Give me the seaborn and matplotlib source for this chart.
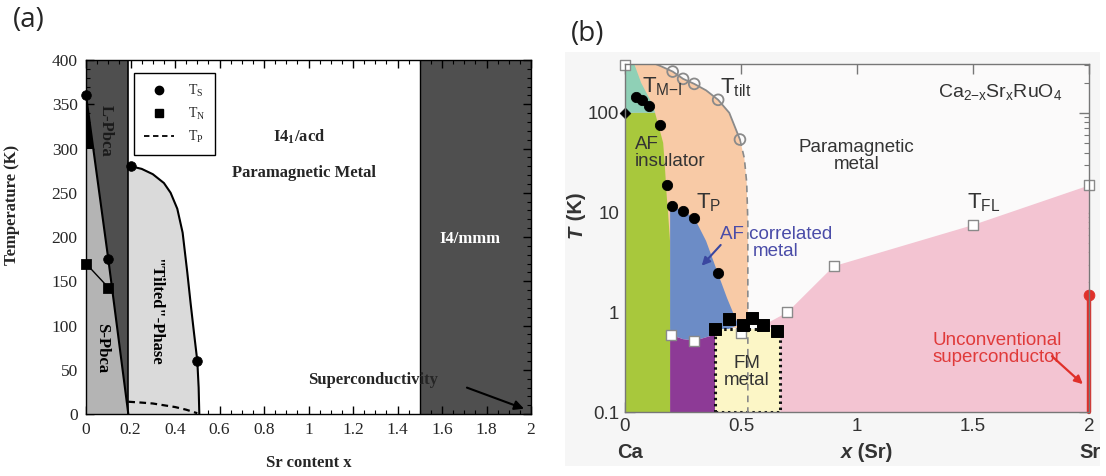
import matplotlib
matplotlib.use("Agg")
import matplotlib.pyplot as plt
import seaborn as sns
from matplotlib.lines import Line2D
from matplotlib.patches import Rectangle
from matplotlib.ticker import MultipleLocator, LogLocator, NullFormatter

# ---------------- panel (a): structural / magnetic phase diagram ----------------
ts_x = [0.0, 0.1, 0.2, 0.5]
ts_y = [360, 175, 280, 60]
tn_x = [0.0, 0.1]
tn_y = [170, 143]
ts_line_x = [0.0, 0.1, 0.19]
ts_line_y = [360, 175, 0]
tilt_x = [0.19, 0.2, 0.25, 0.3, 0.35, 0.38, 0.41, 0.434, 0.455, 0.47, 0.485, 0.5, 0.506, 0.509]
tilt_y = [280, 280, 277, 271, 261, 250, 232, 205, 160, 125, 92, 60, 30, 0]
tp_x = [0.19, 0.25, 0.3, 0.35, 0.4, 0.45, 0.5]
tp_y = [14, 13, 12, 10, 8, 5, 1]
spbca_x = [0.0, 0.0, 0.032, 0.1, 0.19]
spbca_y = [0, 300, 300, 175, 0]
wedge_x = [0.0, 0.0, 0.032]
wedge_y = [360, 300, 300]
lpbca_range = (0.0, 0.19)
i4mmm_range = (1.5, 2.0)
xticks_a = [0, 0.2, 0.4, 0.6, 0.8, 1.0, 1.2, 1.4, 1.6, 1.8, 2.0]
xticklabels_a = ["0", "0.2", "0.4", "0.6", "0.8", "1", "1.2", "1.4", "1.6", "1.8", "2"]
yticks_a = [0, 50, 100, 150, 200, 250, 300, 350, 400]
yticklabels_a = ["0", "50", "100", "150", "200", "250", "300", "350", "400"]
sc_arrow_tail = (1.70, 31)
sc_arrow_head = (1.98, 5)

# ---------------- panel (b): electronic phase diagram (log T) ----------------
tmi_x = [0.05, 0.072, 0.105, 0.151, 0.182, 0.205, 0.251, 0.299, 0.402]
tmi_y = [145, 135, 118, 76, 18.7, 11.6, 10.5, 8.8, 2.5]
tmi_diamond_x = [0.0]
tmi_diamond_y = [100]
ttilt_x = [0.206, 0.251, 0.299, 0.402, 0.496]
ttilt_y = [259, 219, 195, 135, 54]
ttilt_line_x = [0.13, 0.16, 0.206, 0.251, 0.299, 0.35, 0.402, 0.45, 0.496]
ttilt_line_y = [310, 290, 259, 219, 195, 168, 135, 100, 54]
ttilt_dash_x = [0.496, 0.515, 0.525, 0.53, 0.53]
ttilt_dash_y = [54, 35, 20, 8, 0.1]
tfl_x = [0.0, 0.2, 0.3, 0.5, 0.7, 0.9, 1.5, 2.0]
tfl_y = [300, 0.6, 0.52, 0.62, 1.0, 2.9, 7.5, 18.7]
fm_sq_x = [0.388, 0.448, 0.51, 0.546, 0.596, 0.654]
fm_sq_y = [0.68, 0.85, 0.74, 0.87, 0.74, 0.65]
sc_x = [2.0, 2.0]
sc_y = [0.1, 1.48]

teal_x = [0.0, 0.0, 0.04, 0.07, 0.12, 0.13]
teal_y = [100, 310, 310, 200, 120, 100]
green_x = [0.0, 0.0, 0.13, 0.165, 0.172, 0.18, 0.186, 0.195, 0.197, 0.197]
green_y = [0.1, 100, 100, 50, 30, 15, 10, 5, 1, 0.1]
blue_x = [0.195, 0.195, 0.25, 0.3, 0.35, 0.4, 0.44, 0.466, 0.49, 0.39, 0.3, 0.25]
blue_y = [0.6, 11.6, 10.5, 8.8, 5.2, 2.5, 1.4, 1.0, 0.75, 0.6, 0.52, 0.54]
purple_x = [0.195, 0.195, 0.25, 0.3, 0.39, 0.39]
purple_y = [0.1, 0.6, 0.54, 0.52, 0.6, 0.1]
peach_x = [0.04, 0.13, 0.16, 0.206, 0.251, 0.299, 0.35, 0.402, 0.45, 0.496, 0.515,
           0.525, 0.53, 0.53, 0.04]
peach_y = [310, 310, 290, 259, 219, 195, 168, 135, 100, 54, 35, 20, 8, 0.7, 0.7]
pink_x = [0.6, 0.7, 0.9, 1.5, 2.0, 2.0, 0.67, 0.67]
pink_y = [0.75, 1.0, 2.9, 7.5, 18.7, 0.1, 0.1, 0.65]
fm_x = [0.39, 0.39, 0.67, 0.67]
fm_y = [0.1, 0.68, 0.68, 0.1]
yticks_b = [0.1, 1, 10, 100]
yticklabels_b = ["0.1", "1", "10", "100"]
xticks_b = [0, 0.5, 1, 1.5, 2]
xticklabels_b = ["0", "0.5", "1", "1.5", "2"]

sns.set_theme(style="ticks")
plt.rcParams["font.family"] = ["Liberation Sans", "DejaVu Sans"]
plt.rcParams["mathtext.default"] = "regular"

SERIF = ["Liberation Serif", "DejaVu Serif"]
SANS = ["Liberation Sans", "DejaVu Sans"]
DARK = "#4f4f4f"

fig = plt.figure(figsize=(11.06, 4.76), dpi=100)
fig.patch.set_facecolor("white")

# ======================= (a) =======================
axa = fig.add_axes([0.0778, 0.130, 0.4024, 0.744])
axa.set_xlim(0, 2)
axa.set_ylim(0, 400)

axa.axvspan(*lpbca_range, color=DARK, lw=0, zorder=0)
axa.axvspan(*i4mmm_range, color=DARK, lw=0, zorder=0)
axa.fill(spbca_x, spbca_y, color="#b4b4b4", lw=0, zorder=1)
axa.fill(wedge_x, wedge_y, color="black", lw=0, zorder=1)
axa.fill_between(tilt_x, 0, tilt_y, color="#dadada", lw=0, zorder=1)
axa.axvline(lpbca_range[1], color="black", lw=1.2, zorder=2)
axa.axvline(i4mmm_range[0], color="black", lw=1.0, zorder=2)

sns.lineplot(x=ts_line_x, y=ts_line_y, sort=False, estimator=None, color="black",
             lw=1.5, ax=axa, zorder=3)
sns.lineplot(x=tilt_x[1:], y=tilt_y[1:], sort=False, estimator=None, color="black",
             lw=1.5, ax=axa, zorder=3)
sns.lineplot(x=tn_x, y=tn_y, sort=False, estimator=None, color="black",
             lw=1.0, ax=axa, zorder=3)
sns.lineplot(x=tp_x, y=tp_y, sort=False, estimator=None, color="black",
             lw=1.6, linestyle=(0, (3, 2)), ax=axa, zorder=3)
sns.scatterplot(x=ts_x, y=ts_y, marker="o", s=48, color="black", edgecolor="black",
                ax=axa, zorder=5, clip_on=False)
sns.scatterplot(x=tn_x, y=tn_y, marker="s", s=48, color="black", edgecolor="black",
                ax=axa, zorder=5, clip_on=False)

handles = [
    Line2D([], [], marker="o", color="black", ls="none", ms=6),
    Line2D([], [], marker="s", color="black", ls="none", ms=6),
    Line2D([], [], color="black", ls=(0, (3, 2)), lw=1.3),
]
leg = axa.legend(handles, [r"T$_{S}$", r"T$_{N}$", r"T$_{P}$"], loc="upper left",
                 bbox_to_anchor=(0.092, 0.982), prop={"family": SERIF, "size": 10},
                 frameon=True, fancybox=False, edgecolor="black", framealpha=1,
                 handlelength=2.2, borderpad=0.7, labelspacing=0.5, handletextpad=1.0)
leg.get_frame().set_linewidth(1.0)
leg.set_zorder(6)

bold_serif = dict(family=SERIF, weight="bold", fontsize=12)
axa.text(0.09, 320, "L-Pbca", rotation=-90, ha="center", va="center", color="#1a1a1a",
         zorder=4, **bold_serif)
axa.text(0.07, 75, "S-Pbca", rotation=-90, ha="center", va="center", color="black",
         zorder=4, **bold_serif)
axa.text(0.31, 115, '"Tilted"-Phase', rotation=-90, ha="center", va="center",
         color="black", zorder=4, **bold_serif)
axa.text(0.96, 313, r"I4$_{1}$/acd", ha="center", va="center", **bold_serif)
axa.text(0.98, 272, "Paramagnetic Metal", ha="center", va="center", **bold_serif)
axa.text(1.726, 198, "I4/mmm", ha="center", va="center", color="white", **bold_serif)
axa.text(1.29, 38, "Superconductivity", ha="center", va="center", zorder=4, **bold_serif)
axa.annotate("", xy=sc_arrow_head, xytext=sc_arrow_tail,
             arrowprops=dict(arrowstyle="-|>", color="black", lw=1.5,
                             mutation_scale=14), zorder=4)

axa.set_xticks(xticks_a, xticklabels_a, fontfamily=SERIF, fontsize=12.5)
axa.set_yticks(yticks_a, yticklabels_a, fontfamily=SERIF, fontsize=12.5)
axa.xaxis.set_minor_locator(MultipleLocator(0.05))
axa.yaxis.set_minor_locator(MultipleLocator(10))
axa.tick_params(which="both", direction="in", top=True, right=True, color="black", pad=6)
axa.tick_params(which="major", length=6, width=1)
axa.tick_params(which="minor", length=3, width=0.8)
for sp in axa.spines.values():
    sp.set_color("black")
    sp.set_linewidth(1.0)
    sp.set_zorder(5)
axa.set_xlabel("Sr content x", **bold_serif)
axa.set_ylabel("Temperature (K)", **bold_serif)
axa.xaxis.set_label_coords(0.5, -0.115)
axa.yaxis.set_label_coords(-0.148, 0.59)

fig.text(0.026, 0.958, "(a)", fontsize=20, family=["Open Sans", "DejaVu Sans"],
         ha="center", va="center")

# ======================= (b) =======================
fig.patches.append(Rectangle((0.511, 0.021), 0.484, 0.87, transform=fig.transFigure,
                             facecolor="#f6f6f6", edgecolor="none", zorder=-5))

axb = fig.add_axes([0.565, 0.134, 0.4195, 0.732])
axb.set_yscale("log")
axb.set_xlim(0, 2)
axb.set_ylim(0.1, 310)
axb.set_facecolor("#fbfafa")

axb.fill(pink_x, pink_y, color="#f3c4d2", lw=0, zorder=1)
axb.fill(peach_x, peach_y, color="#f8caa6", lw=0, zorder=1)
axb.fill(green_x, green_y, color="#a8c83c", lw=0, zorder=2)
axb.fill(teal_x, teal_y, color="#8fd0b6", lw=0, zorder=2)
axb.fill(blue_x, blue_y, color="#6c8cc6", lw=0, zorder=2)
axb.fill(purple_x, purple_y, color="#8d3a96", lw=0, zorder=2)
axb.fill(fm_x, fm_y, color="#fcf6c6", lw=0, zorder=3)
sns.lineplot(x=fm_x + [fm_x[0]], y=fm_y + [fm_y[0]], sort=False, estimator=None,
             color="#111111", lw=2.2, linestyle=(0, (0.8, 1.2)), ax=axb, zorder=4)

sns.lineplot(x=ttilt_line_x, y=ttilt_line_y, sort=False, estimator=None, color="#8a8a8a",
             lw=1.3, ax=axb, zorder=4)
sns.lineplot(x=ttilt_dash_x, y=ttilt_dash_y, sort=False, estimator=None, color="#8a8a8a",
             lw=1.2, linestyle=(0, (4, 3)), ax=axb, zorder=4)

sns.scatterplot(x=ttilt_x, y=ttilt_y, marker="o", s=60, facecolor="none",
                edgecolor="#8a8a8a", linewidth=1.3, ax=axb, zorder=5)
sns.scatterplot(x=tfl_x, y=tfl_y, marker="s", s=50, color="white",
                edgecolor="#8a8a8a", linewidth=1.0, ax=axb, zorder=5, clip_on=False)
sns.scatterplot(x=fm_sq_x, y=fm_sq_y, marker="s", s=75, color="black",
                edgecolor="black", ax=axb, zorder=6)
sns.scatterplot(x=tmi_x, y=tmi_y, marker="o", s=55, color="black", edgecolor="black",
                ax=axb, zorder=6)
sns.scatterplot(x=tmi_diamond_x, y=tmi_diamond_y, marker="D", s=30, color="black",
                edgecolor="black", ax=axb, zorder=6, clip_on=False)

sns.lineplot(x=sc_x, y=sc_y, sort=False, estimator=None, color="#e0302a", lw=3.2,
             ax=axb, zorder=6)
axb.lines[-1].set_clip_on(False)
sns.scatterplot(x=sc_x[1:], y=sc_y[1:], marker="o", s=60, color="#e0302a",
                edgecolor="#e0302a", ax=axb, zorder=7, clip_on=False)

sans = dict(family=SANS)
txt_col = "#333333"
axb.text(0.075, 183, r"T$_{M{-}I}$", fontsize=16, color=txt_col, ha="left", va="center",
         zorder=7, **sans)
axb.text(0.41, 178, r"T$_{tilt}$", fontsize=16, color=txt_col, ha="left", va="center",
         zorder=7, **sans)
axb.text(0.043, 40, "AF\ninsulator", fontsize=13.5, color=txt_col, ha="left",
         va="center", linespacing=1.0, zorder=7, **sans)
axb.text(0.305, 12.6, r"T$_{P}$", fontsize=16, color=txt_col, ha="left", va="center",
         zorder=7, **sans)
axb.text(0.65, 5.0, "AF correlated\nmetal", fontsize=13.5, color="#4a4ca8",
         ha="center", va="center", linespacing=1.0, zorder=7, **sans)
axb.annotate("", xy=(0.323, 2.8), xytext=(0.421, 4.97),
             arrowprops=dict(arrowstyle="-|>", color="#3a47a0", lw=1.5,
                             mutation_scale=12), zorder=7)
axb.text(0.997, 37, "Paramagnetic\nmetal", fontsize=13.5, color=txt_col, ha="center",
         va="center", linespacing=1.0, zorder=7, **sans)
axb.text(1.616, 163, r"Ca$_{2{-}x}$Sr$_{x}$RuO$_{4}$", fontsize=14, color=txt_col,
         ha="center", va="center", zorder=7, **sans)
axb.text(1.473, 12.6, r"T$_{FL}$", fontsize=16, color=txt_col, ha="left", va="center",
         zorder=7, **sans)
axb.text(0.525, 0.255, "FM\nmetal", fontsize=13.5, color=txt_col, ha="center",
         va="center", linespacing=1.0, zorder=7, **sans)
axb.text(1.604, 0.43, "Unconventional\nsuperconductor", fontsize=13.5, color="#e03a3a",
         ha="center", va="center", linespacing=1.0, zorder=7, **sans)
axb.annotate("", xy=(1.983, 0.183), xytext=(1.832, 0.38),
             arrowprops=dict(arrowstyle="-|>", color="#e0302a", lw=1.6,
                             mutation_scale=12), zorder=7)

axb.set_yticks(yticks_b, yticklabels_b, fontfamily=SANS, fontsize=13.5, color=txt_col)
axb.yaxis.set_minor_locator(LogLocator(base=10, subs=range(2, 10)))
axb.yaxis.set_minor_formatter(NullFormatter())
axb.set_xticks(xticks_b, xticklabels_b, fontfamily=SANS, fontsize=13.5, color=txt_col)
axb.tick_params(which="both", direction="in", top=True, right=True, color="#777777", pad=4)
axb.tick_params(which="major", length=7, width=1)
axb.tick_params(which="minor", length=3.5, width=0.8)
for sp in axb.spines.values():
    sp.set_color("#777777")
    sp.set_linewidth(1.0)
    sp.set_zorder(8)

lab_kw = dict(fontsize=14.5, fontweight="bold", color=txt_col, transform=axb.transAxes,
              family=SANS)
axb.text(0.011, -0.115, "Ca", ha="center", va="center", **lab_kw)
axb.text(1.002, -0.115, "Sr", ha="center", va="center", **lab_kw)
tx = axb.text(0.465, -0.115, "x", ha="left", va="center", style="italic", **lab_kw)
axb.annotate(" (Sr)", xy=(1, 0.5), xycoords=tx, va="center", ha="left",
             fontsize=14.5, fontweight="bold", color=txt_col, family=SANS)
ty = axb.text(-0.105, 0.5, "T", rotation=90, ha="center", va="bottom", style="italic",
              **lab_kw)
axb.annotate(" (K)", xy=(0.5, 1), xycoords=ty, rotation=90, va="bottom", ha="center",
             fontsize=14.5, fontweight="bold", color=txt_col, family=SANS)

fig.text(0.531, 0.929, "(b)", fontsize=20, family=["Open Sans", "DejaVu Sans"],
         ha="center", va="center")

fig.savefig("out.png", dpi=100)
